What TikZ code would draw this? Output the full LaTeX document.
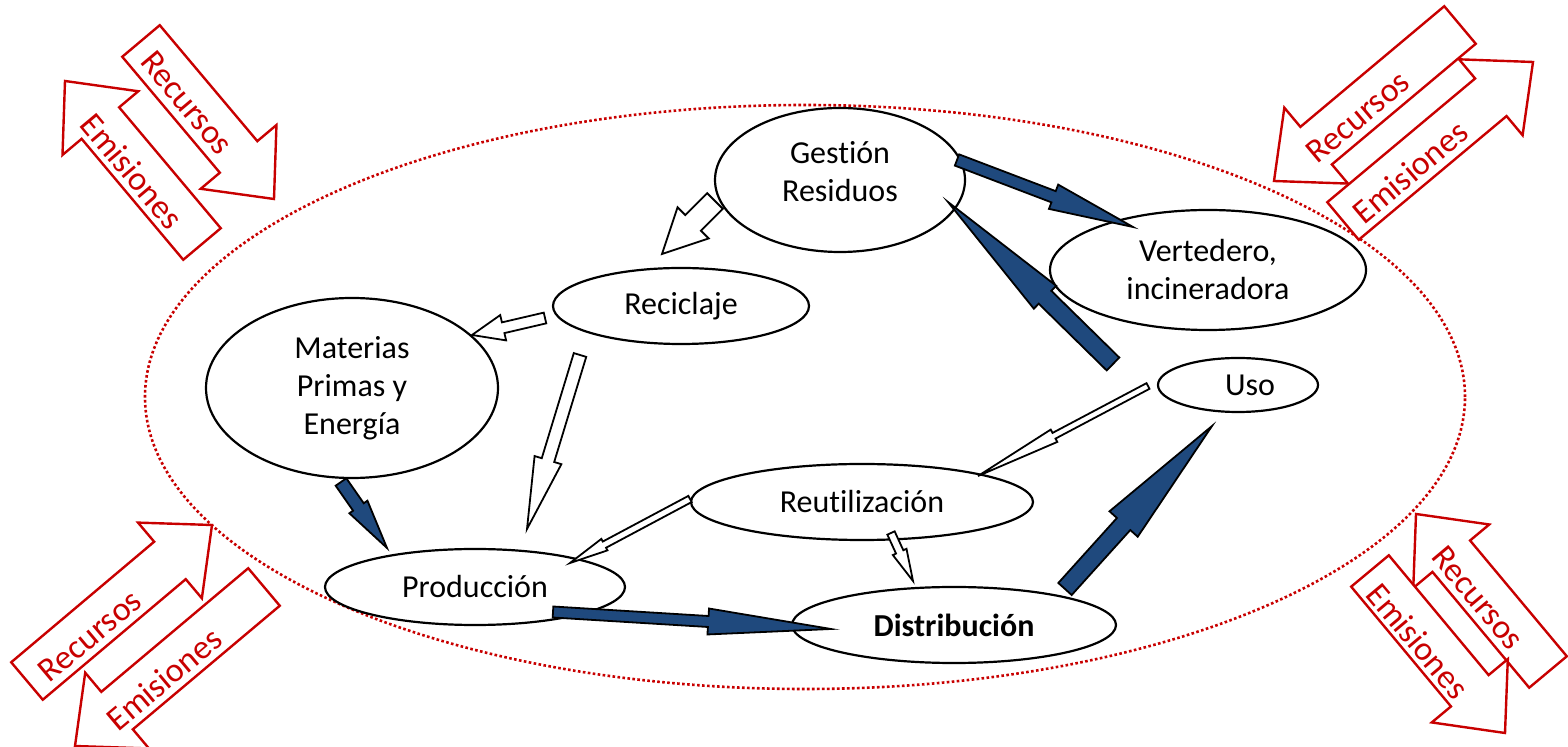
\documentclass[tikz,border=0pt]{standalone}
\usepackage{fontspec}
\setmainfont{Carlito}[Ligatures=NoCommon]
\usetikzlibrary{shapes.geometric,calc}
\definecolor{emred}{RGB}{200,0,0}
\definecolor{flowblue}{RGB}{31,73,125}

\newcommand{\fatarrow}[6][]{%
	\path (#2) coordinate (fa-s) (#3) coordinate (fa-t);
	\path ($(fa-t)!#6!(fa-s)$) coordinate (fa-n);
	\draw[#1] ($(fa-s)!#4!90:(fa-t)$) -- ($(fa-n)!#4!-90:(fa-s)$)
		-- ($(fa-n)!#5!-90:(fa-s)$) -- (fa-t) -- ($(fa-n)!#5!90:(fa-s)$)
		-- ($(fa-n)!#4!90:(fa-s)$) -- ($(fa-s)!#4!-90:(fa-t)$) -- cycle;
}

\begin{document}
\begin{tikzpicture}[x=0.5pt, y=-0.5pt,
		stage/.style={ellipse, draw, line width=1.1pt, fill=white, inner sep=0pt,
			align=center, font=\fontsize{16}{19}\selectfont},
		bluearrow/.style={draw=black, fill=flowblue, line width=0.9pt},
		whitearrow/.style={draw=black, fill=white, line width=0.9pt},
		redarrow/.style={draw=emred, fill=white, line width=1.2pt},
		redlabel/.style={text=emred, inner sep=0pt, font=\fontsize{17}{20}\selectfont}]
		\useasboundingbox (0,0) rectangle (1568,747);

		\draw[emred, line width=1.3pt, dash pattern=on 1.3pt off 1.2pt]
		(805,397) ellipse [x radius=330pt, y radius=146pt];

		\fatarrow[redarrow]{141,41}{274,199}{12.25pt}{24.75pt}{27.5pt}
		\fatarrow[redarrow]{202,244}{65,81}{12.25pt}{24.75pt}{27.5pt}
		\fatarrow[redarrow]{1460,25}{1274,181}{12.25pt}{24.75pt}{27.5pt}
		\fatarrow[redarrow]{1343,221}{1533,62}{12.25pt}{24.75pt}{27.5pt}
		\fatarrow[redarrow]{27,681}{212,525}{12.25pt}{24.75pt}{27.5pt}
		\fatarrow[redarrow]{264,587}{75,746}{12.25pt}{24.75pt}{27.5pt}
		\fatarrow[redarrow]{1548,672}{1416,514}{12.25pt}{24.75pt}{27.5pt}
		\fatarrow[redarrow]{1370,571}{1505,733}{12.25pt}{24.75pt}{27.5pt}

		\path
		(187,103) node [redlabel, rotate=-50] (recTL) {Recursos}
		(132,171) node [redlabel, rotate=-50] (emiTL) {Emisiones}
		(1358,117) node [redlabel, rotate=40] (recTR) {Recursos}
		(1410,172) node [redlabel, rotate=40] (emiTR) {Emisiones}
		(90,636) node [redlabel, rotate=40] (recBL) {Recursos}
		(164,679) node [redlabel, rotate=40] (emiBL) {Emisiones}
		(1478,598) node [redlabel, rotate=-50] (recBR) {Recursos}
		(1418,641) node [redlabel, rotate=-50] (emiBR) {Emisiones};

		\path
		(840,180) node [stage, minimum width=125pt, minimum height=72pt, text depth=9pt] (ges) {Gestión\\Residuos}
		(1208,270) node [stage, minimum width=158pt, minimum height=60pt] (ver) {Vertedero,\\incineradora}
		(681,306) node [stage, minimum width=128pt, minimum height=38pt] (rec) {Reciclaje}
		(352,388) node [stage, minimum width=146pt, minimum height=90pt] (mat) {Materias\\Primas y\\Energía}
		(1238,385) node [stage, minimum width=80pt, minimum height=27pt] (uso) {\hspace*{12pt}Uso}
		(862,502) node [stage, minimum width=171pt, minimum height=38pt] (reu) {Reutilización}
		(475,587) node [stage, minimum width=150pt, minimum height=38pt] (pro) {Producción}
		(954,625) node [stage, minimum width=162pt, minimum height=38pt] (dis) {\bfseries Distribución};

		\coordinate (ges-rec-s) at (715,201);
		\coordinate (ges-rec-t) at (662,254);
		\coordinate (rec-mat-s) at (545,318);
		\coordinate (rec-mat-t) at (472,335);
		\coordinate (rec-pro-s) at (580,355);
		\coordinate (rec-pro-t) at (527,529);
		\coordinate (ges-ver-s) at (957,160);
		\coordinate (ges-ver-t) at (1133,227);
		\coordinate (ver-ges-s) at (1113,364);
		\coordinate (ver-ges-t) at (948,202);
		\coordinate (mat-pro-s) at (341,482);
		\coordinate (mat-pro-t) at (387,548);
		\coordinate (uso-reu-s) at (1148,386);
		\coordinate (uso-reu-t) at (978,476);
		\coordinate (reu-pro-s) at (690,499);
		\coordinate (reu-pro-t) at (570,563);
		\coordinate (reu-dis-s) at (891,533);
		\coordinate (reu-dis-t) at (913,581);
		\coordinate (pro-dis-s) at (553,612);
		\coordinate (pro-dis-t) at (831,629);
		\coordinate (dis-uso-s) at (1065,589);
		\coordinate (dis-uso-t) at (1212,426);

		\fatarrow[whitearrow]{ges-rec-s}{ges-rec-t}{5.5pt}{11pt}{22pt}
		\fatarrow[whitearrow]{rec-mat-s}{rec-mat-t}{2.75pt}{6.5pt}{16pt}
		\fatarrow[whitearrow]{rec-pro-s}{rec-pro-t}{3.25pt}{7pt}{36pt}
		\fatarrow[bluearrow]{ges-ver-s}{ges-ver-t}{3pt}{6.5pt}{42.5pt}
		\fatarrow[bluearrow]{ver-ges-s}{ver-ges-t}{4.5pt}{8pt}{68pt}
		\fatarrow[bluearrow]{mat-pro-s}{mat-pro-t}{3.25pt}{5.5pt}{25pt}
		\fatarrow[whitearrow]{uso-reu-s}{uso-reu-t}{1.6pt}{3.5pt}{43pt}
		\fatarrow[whitearrow]{reu-pro-s}{reu-pro-t}{1.75pt}{3.25pt}{19.5pt}
		\fatarrow[whitearrow]{reu-dis-s}{reu-dis-t}{2pt}{3.75pt}{16pt}
		\fatarrow[bluearrow]{pro-dis-s}{pro-dis-t}{2.75pt}{6.5pt}{61.5pt}
		\fatarrow[bluearrow]{dis-uso-s}{dis-uso-t}{4.5pt}{9.5pt}{66pt}
	\end{tikzpicture}
\end{document}
